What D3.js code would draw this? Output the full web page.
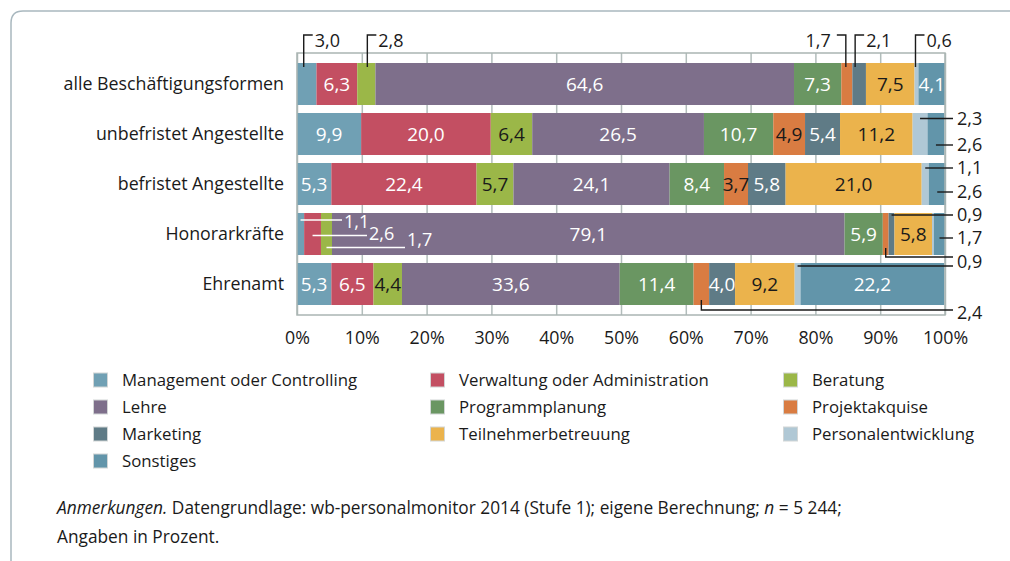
<!DOCTYPE html>
<html>
<head>
<meta charset="utf-8">
<script src="https://cdn.jsdelivr.net/npm/d3@7"></script>
<style>
  body { margin: 0; background: #fff; }
  text { font-family: "Open Sans", "Noto Sans", sans-serif; fill: #1a1a1a; }
</style>
</head>
<body>
<svg id="chart" width="1010" height="561"></svg>
<script>
// rows and categories
const rowLabels = ["alle Beschäftigungsformen", "unbefristet Angestellte", "befristet Angestellte", "Honorarkräfte", "Ehrenamt"];
const categories = ["Management oder Controlling", "Verwaltung oder Administration", "Beratung", "Lehre",
  "Programmplanung", "Projektakquise", "Marketing", "Teilnehmerbetreuung", "Personalentwicklung", "Sonstiges"];

// values in percent, one array per row, same order as categories
const alleValues        = [3.0, 6.3, 2.8, 64.6, 7.3, 1.7, 2.1, 7.5, 0.6, 4.1];
const unbefristetValues = [9.9, 20.0, 6.4, 26.5, 10.7, 4.9, 5.4, 11.2, 2.3, 2.6];
const befristetValues   = [5.3, 22.4, 5.7, 24.1, 8.4, 3.7, 5.8, 21.0, 1.1, 2.6];
const honorarValues     = [1.1, 2.6, 1.7, 79.1, 5.9, 0.9, 0.9, 5.8, 0.3, 1.7];
const ehrenamtValues    = [5.3, 6.5, 4.4, 33.6, 11.4, 2.4, 4.0, 9.2, 0.9, 22.2];
const seriesValues = [alleValues, unbefristetValues, befristetValues, honorarValues, ehrenamtValues];

const xTickValues = [0, 10, 20, 30, 40, 50, 60, 70, 80, 90, 100];
const xTickLabels = ["0%", "10%", "20%", "30%", "40%", "50%", "60%", "70%", "80%", "90%", "100%"];

const colors = ["#70a0b4", "#c34f62", "#9bb748", "#7e6f8b", "#6a9662", "#d97c42", "#5f7b86", "#ebb34c", "#b0c8d5", "#6295aa"];
// categories whose labels are dark
const darkText = [2, 5, 7, 8];

const fmt = v => d3.format(".1f")(v).replace(".", ",");

const svg = d3.select("#chart");

// outer frame (top + left with rounded corner)
svg.append("path")
  .attr("d", "M1012,11 L23,11 Q11,11 11,23 L11,563")
  .attr("fill", "none")
  .attr("stroke", "#a9b8bf")
  .attr("stroke-width", 1.5);

const plotTop = 53, plotBottom = 315;
const x = d3.scaleLinear().domain([0, 100]).range([297, 945]);
const y = d3.scaleBand().domain(rowLabels).range([59, 309]).paddingInner(0.16).paddingOuter(0.08);

// grid + tick labels
const axis = d3.axisBottom(x)
  .tickValues(xTickValues)
  .tickSize(-(plotBottom - plotTop))
  .tickFormat((d, i) => xTickLabels[i]);
const gAxis = svg.append("g")
  .attr("transform", `translate(0,${plotBottom})`)
  .call(axis);
gAxis.select(".domain").remove();
gAxis.selectAll(".tick line").attr("stroke", "#b2bdbb").attr("stroke-width", 1.5);
gAxis.selectAll(".tick text")
  .attr("y", 23).attr("dy", "0.35em")
  .attr("font-size", "17.8px")
  .attr("font-family", "'Open Sans', sans-serif")
  .attr("fill", "#1a1a1a");

// row labels
svg.append("g").selectAll("text")
  .data(rowLabels)
  .join("text")
  .attr("x", 284)
  .attr("y", d => y(d) + y.bandwidth() / 2)
  .attr("dy", "0.35em")
  .attr("text-anchor", "end")
  .attr("font-size", "17.8px")
  .text(d => d);

// stacked data
const table = rowLabels.map((r, i) => {
  const o = { row: r };
  categories.forEach((c, j) => { o[c] = seriesValues[i][j]; });
  return o;
});
const stacked = d3.stack().keys(categories)(table);

// callouts: layout only (which segment, where its label goes)
const topCallouts = [
  { row: 0, cat: 0, dx: -3, side: "right" },
  { row: 0, cat: 2, dx: 1, side: "right" },
  { row: 0, cat: 5, dx: -1, side: "left" },
  { row: 0, cat: 6, dx: -4, side: "right" },
  { row: 0, cat: 8, dx: -1, side: "right" }
];
const rightCallouts = [
  { row: 1, cat: 8, lineY: 118.5, labelY: 119 },
  { row: 1, cat: 9, lineY: 145, labelY: 145 },
  { row: 2, cat: 8, lineY: 168, labelY: 168 },
  { row: 2, cat: 9, lineY: 192, labelY: 192 },
  { row: 3, cat: 6, lineY: 215, labelY: 215 },
  { row: 3, cat: 9, lineY: 238, labelY: 238 },
  { row: 3, cat: 5, lineY: 257, labelY: 262, bracket: 248 },
  { row: 4, cat: 8, lineY: 266, labelY: null },
  { row: 4, cat: 5, lineY: 310, labelY: 313, bracket: 300 }
];
const innerCallouts = [
  { row: 3, cat: 0, lineY: 220, endX: 342, labelY: 222 },
  { row: 3, cat: 1, lineY: 235.5, endX: 367, labelY: 234 },
  { row: 3, cat: 2, lineY: 247.5, endX: 405, labelY: 240 }
];
const hasCallout = (r, c) =>
  [...topCallouts, ...rightCallouts, ...innerCallouts].some(d => d.row === r && d.cat === c);

const seg = (r, c) => stacked[c][r];
const segMid = (r, c) => x((seg(r, c)[0] + seg(r, c)[1]) / 2);

// bars
const layers = svg.append("g").selectAll("g")
  .data(stacked)
  .join("g")
  .attr("fill", (d, i) => colors[i]);
layers.selectAll("rect")
  .data(d => d)
  .join("rect")
  .attr("x", d => x(d[0]))
  .attr("y", d => y(d.data.row))
  .attr("width", d => Math.max(0, x(d[1]) - x(d[0])))
  .attr("height", y.bandwidth());

// plot frame
svg.append("rect")
  .attr("x", x(0)).attr("y", plotTop)
  .attr("width", x(100) - x(0)).attr("height", plotBottom - plotTop)
  .attr("fill", "none").attr("stroke", "#aab5b3").attr("stroke-width", 1.5);

// inside value labels
const inner = [];
stacked.forEach((layer, c) => layer.forEach((d, r) => {
  const v = seriesValues[r][c];
  if (v >= 0.5 && !hasCallout(r, c)) inner.push({ r, c, v, d });
}));
svg.append("g").selectAll("text")
  .data(inner)
  .join("text")
  .attr("x", d => x((d.d[0] + d.d[1]) / 2))
  .attr("y", d => y(rowLabels[d.r]) + y.bandwidth() / 2)
  .attr("dy", "0.36em")
  .attr("text-anchor", "middle")
  .attr("font-size", "19px")
  .style("fill", d => darkText.includes(d.c) ? "#1a1a1a" : "#ffffff")
  .text(d => fmt(d.v));

// top callouts
const barTop0 = y(rowLabels[0]);
const gTop = svg.append("g");
topCallouts.forEach(d => {
  const cx = segMid(d.row, d.cat) + d.dx;
  const hx = d.side === "right" ? cx + 9 : cx - 9;
  gTop.append("path")
    .attr("d", `M${cx},${barTop0 + 4} L${cx},35 L${hx},35`)
    .attr("fill", "none").attr("stroke", "#1a1a1a").attr("stroke-width", 1.4);
  gTop.append("text")
    .attr("x", d.side === "right" ? hx + 2 : hx - 6)
    .attr("y", 41).attr("dy", "0.35em")
    .attr("text-anchor", d.side === "right" ? "start" : "end")
    .attr("font-size", "18px")
    .text(fmt(seriesValues[d.row][d.cat]));
});

// right callouts
const gRight = svg.append("g");
rightCallouts.forEach(d => {
  const cx = segMid(d.row, d.cat);
  const path = d.bracket != null
    ? `M${cx},${d.bracket} L${cx},${d.lineY} L953,${d.lineY}`
    : `M${cx},${d.lineY} L953,${d.lineY}`;
  gRight.append("path")
    .attr("d", path)
    .attr("fill", "none").attr("stroke", "#1a1a1a").attr("stroke-width", 1.4);
  if (d.labelY != null) {
    gRight.append("text")
      .attr("x", 957).attr("y", d.labelY).attr("dy", "0.35em")
      .attr("font-size", "18px")
      .text(fmt(seriesValues[d.row][d.cat]));
  }
});

// white callouts inside Honorarkräfte bar
const gInner = svg.append("g");
innerCallouts.forEach(d => {
  const cx = segMid(d.row, d.cat);
  gInner.append("line")
    .attr("x1", cx).attr("x2", d.endX)
    .attr("y1", d.lineY).attr("y2", d.lineY)
    .attr("stroke", "#ffffff").attr("stroke-width", 1.4);
  gInner.append("text")
    .attr("x", d.endX + 2).attr("y", d.labelY).attr("dy", "0.35em")
    .attr("font-size", "18px")
    .style("fill", "#ffffff")
    .text(fmt(seriesValues[d.row][d.cat]));
});

// legend: three columns, row-major
const legendX = [93, 430, 783];
const legendY0 = 380, legendStep = 27;
const gLegend = svg.append("g");
categories.forEach((c, i) => {
  const col = i % 3, row = Math.floor(i / 3);
  const g = gLegend.append("g")
    .attr("transform", `translate(${legendX[col]},${legendY0 + row * legendStep})`);
  g.append("rect")
    .attr("x", 0.5).attr("y", -7)
    .attr("width", 14).attr("height", 14)
    .attr("fill", colors[i])
    .attr("stroke", "#d2d6d6").attr("stroke-width", 1);
  g.append("text")
    .attr("x", 29).attr("dy", "0.35em")
    .attr("font-size", "16.8px")
    .text(c);
});

// footnote
const note1 = svg.append("text").attr("x", 57).attr("y", 508).attr("dy", "0.35em").attr("font-size", "17.3px");
note1.append("tspan").attr("font-style", "italic").text("Anmerkungen.");
note1.append("tspan").text(" Datengrundlage: wb-personalmonitor 2014 (Stufe 1); eigene Berechnung; ");
note1.append("tspan").attr("font-style", "italic").text("n");
note1.append("tspan").text(" = 5 244;");
svg.append("text").attr("x", 57).attr("y", 537).attr("dy", "0.35em").attr("font-size", "17.3px")
  .text("Angaben in Prozent.");
</script>
</body>
</html>
